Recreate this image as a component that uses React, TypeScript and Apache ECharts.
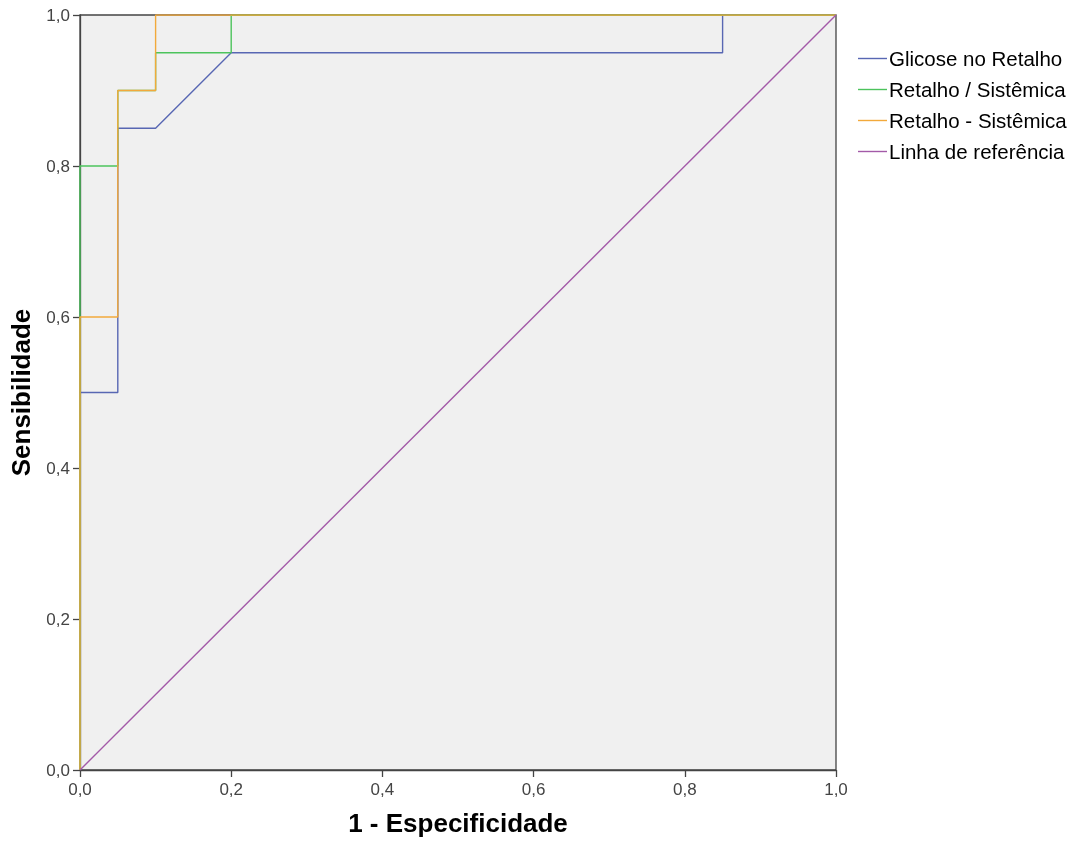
import React, { useEffect, useRef } from "react";
import * as echarts from "echarts";

const seriesNames = ["Glicose no Retalho", "Retalho / Sistêmica", "Retalho - Sistêmica", "Linha de referência"];
const seriesColors = ["#5867b3", "#4cc35c", "#f2a93b", "#a35aa8"];

const glicoseX = [0, 0, 0.05, 0.05, 0.1, 0.2, 0.85, 0.85, 1];
const glicoseY = [0, 0.5, 0.5, 0.85, 0.85, 0.95, 0.95, 1, 1];
const razaoX = [0, 0, 0.05, 0.05, 0.1, 0.1, 0.2, 0.2, 1];
const razaoY = [0, 0.8, 0.8, 0.9, 0.9, 0.95, 0.95, 1, 1];
const difX = [0, 0, 0.05, 0.05, 0.1, 0.1, 1];
const difY = [0, 0.6, 0.6, 0.9, 0.9, 1, 1];
const refX = [0, 1];
const refY = [0, 1];

const pairs = (xs: number[], ys: number[]) => xs.map((x, i) => [x, ys[i]]);

export default function App() {
  const ref = useRef<HTMLDivElement>(null);
  useEffect(() => {
    if (!ref.current) return;
    const chart = echarts.init(ref.current, null, { renderer: "svg" });
    const fmt = (v: number) => v.toFixed(1).replace(".", ",");
    const axisCommon = {
      type: "value" as const,
      min: 0,
      max: 1,
      interval: 0.2,
      nameLocation: "middle" as const,
      nameTextStyle: { fontFamily: "Arial, Liberation Sans", fontSize: 26, fontWeight: "bold", color: "#000" },
      axisLine: { show: true, lineStyle: { color: "#444", width: 1.3 } },
      axisTick: { show: true, length: 7, lineStyle: { color: "#444", width: 1.3 } },
      axisLabel: { formatter: fmt, fontFamily: "Arial, Liberation Sans", fontSize: 17, color: "#444" },
      splitLine: { show: false },
    };
    const datasets = [pairs(glicoseX, glicoseY), pairs(razaoX, razaoY), pairs(difX, difY), pairs(refX, refY)];
    chart.setOption({
      animation: false,
      grid: {
        left: 79,
        top: 15,
        width: 757,
        height: 756,
        show: true,
        backgroundColor: "#f0f0f0",
        borderColor: "#444",
        borderWidth: 1.3,
      },
      xAxis: { ...axisCommon, name: "1 - Especificidade", nameGap: 40, axisLabel: { ...axisCommon.axisLabel, margin: 11 } },
      yAxis: { ...axisCommon, name: "Sensibilidade", nameGap: 46, axisLabel: { ...axisCommon.axisLabel, margin: 10 } },
      legend: {
        orient: "vertical",
        left: 858,
        top: 48,
        padding: 0,
        itemWidth: 29,
        itemHeight: 20,
        itemGap: 10,
        textStyle: { fontFamily: "Arial, Liberation Sans", fontSize: 20.5, lineHeight: 20, color: "#000", padding: [0, 0, 0, -3] },
        data: seriesNames.map((n) => ({ name: n, icon: "path://M0,9.3 L29,9.3 L29,10.7 L0,10.7 Z" })),
      },
      series: datasets.map((d, i) => ({
        name: seriesNames[i],
        type: "line",
        data: d,
        showSymbol: false,
        symbol: "none",
        color: seriesColors[i],
        lineStyle: { width: 1.4, color: seriesColors[i] },
        z: 2 + i,
      })),
    });
    return () => chart.dispose();
  }, []);
  return <div ref={ref} style={{ position: "fixed", left: 0, top: 0, width: 1082, height: 841 }} />;
}
